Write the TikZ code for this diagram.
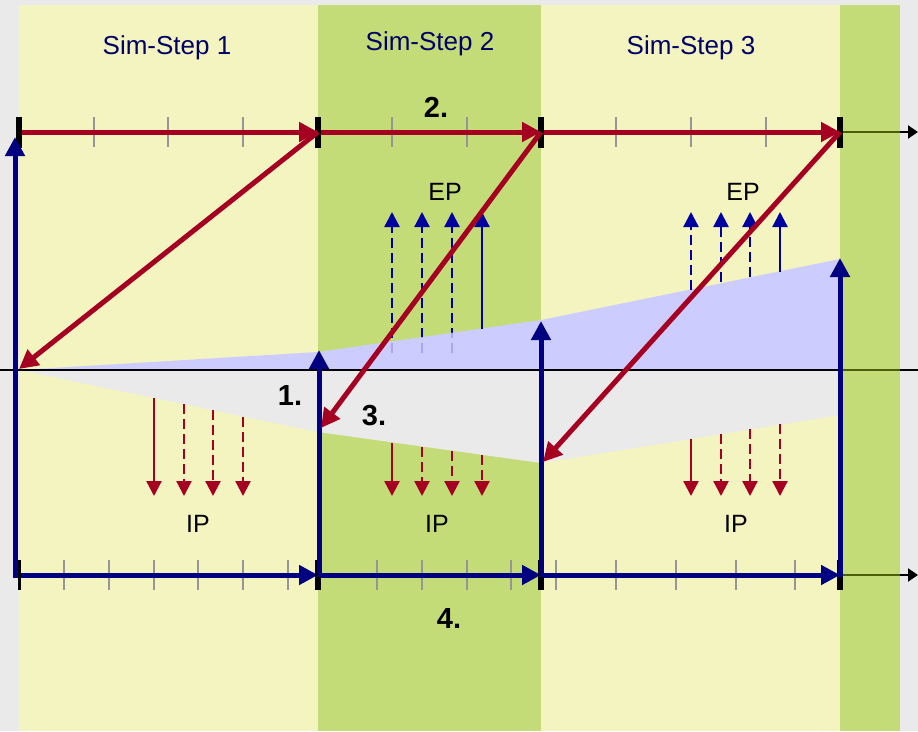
\documentclass[tikz,border=0pt]{standalone}
\usepackage{fontspec}
\setmainfont{Liberation Sans}
\usetikzlibrary{arrows.meta}
\definecolor{bg}{RGB}{234,234,234}
\definecolor{yel}{RGB}{244,244,192}
\definecolor{grn}{RGB}{196,220,120}
\definecolor{bluefill}{RGB}{204,204,255}
\definecolor{crim}{RGB}{165,0,33}
\definecolor{navy}{RGB}{0,0,128}
\definecolor{dblue}{RGB}{0,0,160}
\definecolor{titleblue}{RGB}{0,0,102}
\definecolor{olive}{RGB}{75,95,10}
\definecolor{tickgrey}{RGB}{150,150,150}
\tikzset{
  bigtip/.tip={Triangle[length=19pt,width=19pt]},
  smalltip/.tip={Triangle[length=15pt,width=15pt]},
  blacktip/.tip={Triangle[length=10pt,width=13pt]},
  redthick/.style={draw=crim, line width=5pt, -bigtip},
  bluethick/.style={draw=navy, line width=5pt, -bigtip},
  epsolid/.style={draw=dblue, line width=2.3pt, -smalltip},
  epdash/.style={draw=dblue, line width=2.3pt, dash pattern=on 10pt off 5pt, -smalltip},
  ipsolid/.style={draw=crim, line width=2.3pt, -smalltip},
  ipdash/.style={draw=crim, line width=2.3pt, dash pattern=on 10pt off 5pt, -smalltip},
  greytick/.style={draw=tickgrey, line width=2pt},
  blackbar/.style={draw=black, line width=6pt},
  axisline/.style={draw=black, line width=2pt},
  title/.style={text=titleblue, font=\fontsize{26}{30}\selectfont, anchor=base},
  plabel/.style={text=black, font=\fontsize{25}{30}\selectfont, anchor=base},
  numlabel/.style={text=black, font=\bfseries\fontsize{29}{34}\selectfont, anchor=base},
}
\begin{document}
\begin{tikzpicture}[x=1pt,y=-1pt]
\useasboundingbox (0,0) rectangle (918,731);
% background and bands
\fill[bg] (0,0) rectangle (918,731);
\fill[yel] (19,5) rectangle (318,731);
\fill[grn] (318,5) rectangle (541,731);
\fill[yel] (541,5) rectangle (840,731);
\fill[grn] (840,5) rectangle (900,731);
% wedges
\fill[bluefill] (19,370) -- (318,352) -- (541,320) -- (840,259) -- (840,370) -- cycle;
\fill[bg] (19,370) -- (318,432) -- (541,463) -- (840,415) -- (840,370) -- cycle;
% middle line
\draw[axisline] (0,370) -- (840,370);
\draw[axisline, draw=olive] (840,370) -- (900,370);
\draw[axisline] (900,370) -- (918,370);
% coordinates
\coordinate (T0) at (19,132);
\coordinate (T1) at (318,132);
\coordinate (T2) at (541,132);
\coordinate (T3) at (840,132);
\coordinate (T4) at (918,132);
\coordinate (TG) at (900,132);
\coordinate (B0) at (13,575);
\coordinate (B1) at (318,575);
\coordinate (B2) at (541,575);
\coordinate (B3) at (840,575);
\coordinate (B4) at (918,575);
\coordinate (BG) at (900,575);
% grey ticks
\foreach \x in {94,168,243,392,467,616,691,766}
  \draw[greytick] (\x,117) -- (\x,147);
\foreach \x in {64,109,154,198,243,288,377,422,467,511,556,616,676,736,795}
  \draw[greytick] (\x,560) -- (\x,590);
% top axis
\draw[redthick] (20,132) -- (T1);
\draw[redthick] (T1) -- (T2);
\draw[redthick] (T2) -- (T3);
\draw[line width=2pt, draw=olive] (T3) -- (TG);
\draw[line width=2pt, -blacktip] (TG) -- (T4);
% bottom axis
\draw[bluethick] (B0) -- (B1);
\draw[bluethick] (B1) -- (B2);
\draw[bluethick] (B2) -- (B3);
\draw[line width=2pt, draw=olive] (B3) -- (BG);
\draw[line width=2pt, -blacktip] (BG) -- (B4);
% black bars
\foreach \x in {19,318,541,840}
  \draw[blackbar] (\x,117) -- (\x,148);
\draw[blackbar, line width=3pt] (19,560) -- (19,590);
\foreach \x in {318,541,840}
  \draw[blackbar] (\x,560) -- (\x,590);
% blue verticals
\coordinate (V0b) at (15,577); \coordinate (V0t) at (15,137);
\coordinate (V1b) at (319,577); \coordinate (V1t) at (319,350);
\coordinate (V2b) at (541,577); \coordinate (V2t) at (541,321);
\coordinate (V3b) at (840,577); \coordinate (V3t) at (840,258);
\draw[bluethick] (V0b) -- (V0t);
\draw[bluethick] (V1b) -- (V1t);
\draw[bluethick] (V2b) -- (V2t);
\draw[bluethick] (V3b) -- (V3t);
% EP arrows
\foreach \x in {392,422,452}
  \draw[epdash] (\x,353) -- (\x,212);
\draw[epsolid] (482,329) -- (482,212);
\begin{scope}
  \clip (19,370) -- (318,352) -- (541,320) -- (840,259) -- (840,370) -- cycle;
  \foreach \x in {392,422,452}
    \draw[draw=bluefill!82!dblue, line width=2.3pt, dash pattern=on 10pt off 5pt] (\x,353) -- (\x,212);
\end{scope}
\draw[epdash] (691,290) -- (691,212);
\draw[epdash] (721,282) -- (721,212);
\draw[epdash] (750,277) -- (750,212);
\draw[epsolid] (780,272) -- (780,212);
% IP arrows
\draw[ipsolid] (154,398) -- (154,496);
\draw[ipdash] (184,404) -- (184,496);
\draw[ipdash] (213,410) -- (213,496);
\draw[ipdash] (243,417) -- (243,496);
\draw[ipsolid] (392,443) -- (392,496);
\draw[ipdash] (422,447) -- (422,496);
\draw[ipdash] (452,451) -- (452,496);
\draw[ipdash] (482,455) -- (482,496);
\draw[ipsolid] (691,439) -- (691,496);
\draw[ipdash] (721,434) -- (721,496);
\draw[ipdash] (750,429) -- (750,496);
\draw[ipdash] (780,424) -- (780,496);
% red diagonals
\coordinate (D1) at (19,369);
\coordinate (D2) at (321,428);
\coordinate (D3) at (543,462);
\draw[redthick] (T1) -- (D1);
\draw[redthick] (T2) -- (D2);
\draw[redthick] (T3) -- (D3);
% labels
\node[title] (s1) at (167,54) {Sim-Step 1};
\node[title] (s2) at (430,50) {Sim-Step 2};
\node[title] (s3) at (691,54) {Sim-Step 3};
\node[plabel] (ep2) at (445,200) {EP};
\node[plabel] (ep3) at (743,200) {EP};
\node[plabel] (ip1) at (198,532) {IP};
\node[plabel] (ip2) at (437,532) {IP};
\node[plabel] (ip3) at (736,532) {IP};
\node[numlabel] (n1) at (290,405) {1.};
\node[numlabel] (n2) at (436,117) {2.};
\node[numlabel] (n3) at (374,425) {3.};
\node[numlabel] (n4) at (449,628) {4.};
\end{tikzpicture}
\end{document}
